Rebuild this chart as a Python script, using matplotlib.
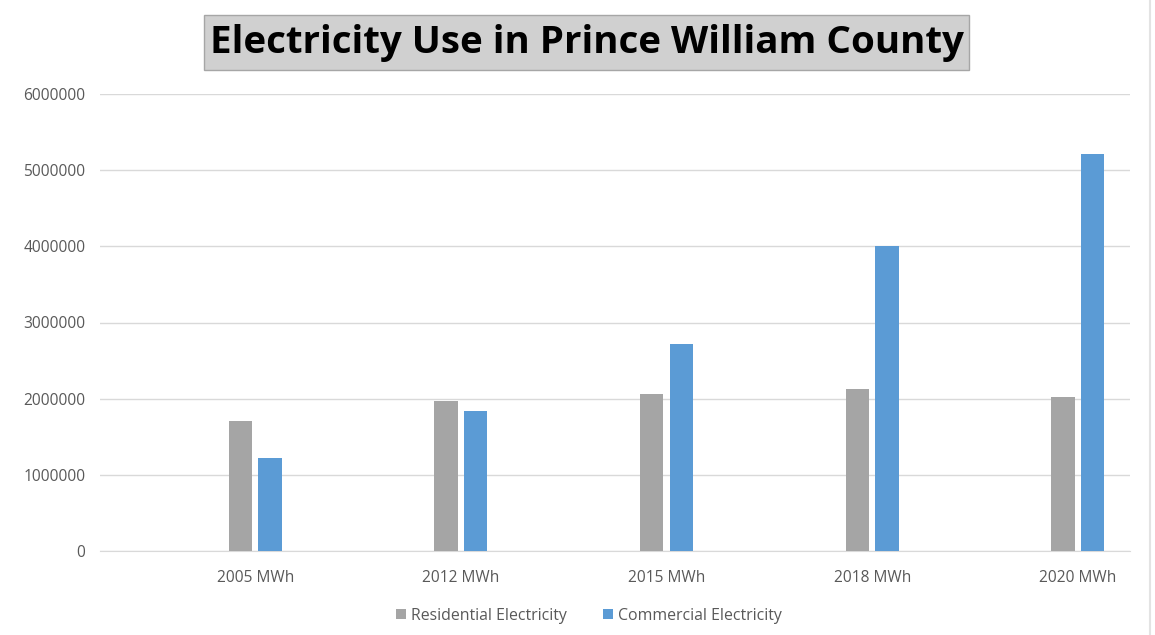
import matplotlib
matplotlib.use('Agg')
import matplotlib.pyplot as plt
from matplotlib.lines import Line2D
from matplotlib.patches import Rectangle
import numpy as np

categories = ['2005 MWh', '2012 MWh', '2015 MWh', '2018 MWh', '2020 MWh']
residential = [1710000, 1975000, 2060000, 2130000, 2020000]
commercial = [1225000, 1835000, 2720000, 4000000, 5210000]
yticks = [0, 1000000, 2000000, 3000000, 4000000, 5000000, 6000000]

GRAY = '#a5a5a5'
BLUE = '#5b9bd5'
TXT = '#595959'
W, H = 1155, 635

plt.rcParams['font.family'] = ['Open Sans', 'DejaVu Sans']

fig = plt.figure(figsize=(11.55, 6.35), dpi=100)
ax = fig.add_axes([100/W, 1-551/H, 1030/W, 457/H])

x = np.arange(len(categories))
w = 0.114
ax.bar(x-0.073, residential, w, color=GRAY, label='Residential Electricity', zorder=3)
ax.bar(x+0.071, commercial, w, color=BLUE, label='Commercial Electricity', zorder=3)

ax.set_xlim(-0.756, 4.253)
ax.set_ylim(0, 6000000)
ax.set_yticks(yticks)
ax.set_yticklabels([str(v) for v in yticks])
ax.set_xticks(x)
ax.set_xticklabels(categories)
ax.tick_params(axis='both', length=0, colors=TXT, labelsize=11.2)
ax.tick_params(axis='y', pad=10.5)
ax.tick_params(axis='x', pad=14)
for s in ['top', 'right', 'left']:
    ax.spines[s].set_visible(False)
ax.spines['bottom'].set_color('#d9d9d9')
ax.grid(axis='y', color='#d9d9d9', linewidth=1, zorder=0)

leg = ax.legend(loc='upper center', bbox_to_anchor=(0.475, -0.093), ncol=2, frameon=False,
                fontsize=11.4, handlelength=0.6, handleheight=0.6, handletextpad=0.35,
                columnspacing=2.3)
for t in leg.get_texts():
    t.set_color(TXT)

# title box
fig.add_artist(Rectangle((204/W, 1-70/H), 765/W, 55/H, transform=fig.transFigure,
                         facecolor='#d0d0d0', edgecolor='#a6a6a6', linewidth=1))
fig.text(586.5/W, 1-43/H, 'Electricity Use in Prince William County', ha='center', va='center',
         fontsize=27.7, fontweight='bold', color='black')

fig.add_artist(Line2D([1150/W, 1150/W], [0, 1], color='#e3e3e3', linewidth=1.5))

fig.savefig('out.png', dpi=100, facecolor='white')
